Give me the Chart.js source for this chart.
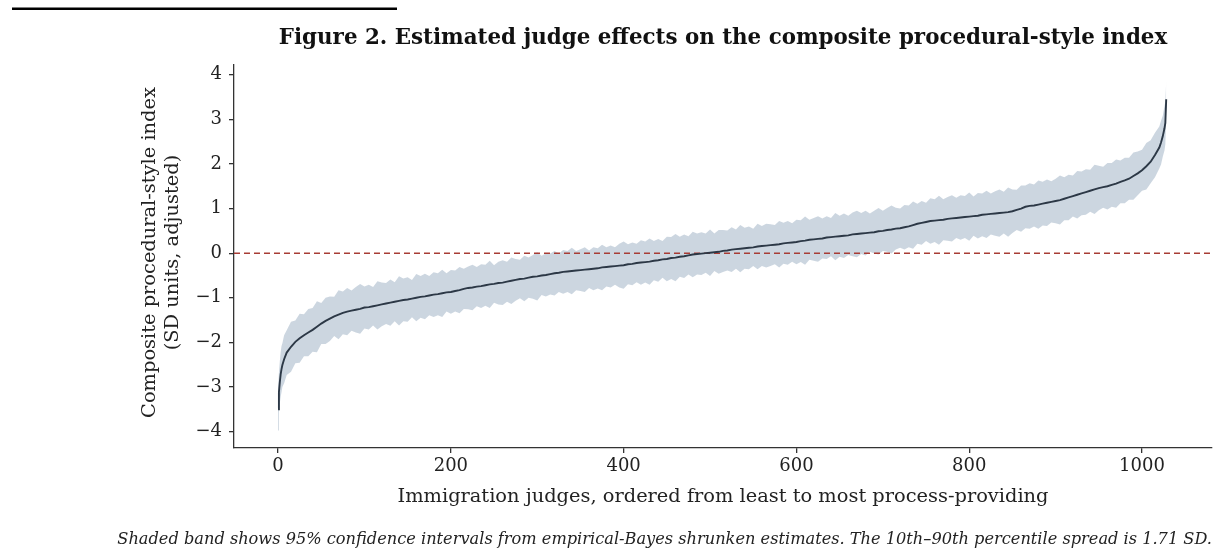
<!DOCTYPE html>
<html>
<head>
<meta charset="utf-8">
<script src="https://cdn.jsdelivr.net/npm/chart.js@4.4.1/dist/chart.umd.min.js"></script>
<style>
  html, body { margin: 0; padding: 0; background: #ffffff; }
  #wrap { position: relative; width: 1222px; height: 557px; }
  canvas { display: block; }
</style>
</head>
<body>
<div id="wrap"><canvas id="c" width="1222" height="557"></canvas></div>
<script>
// Judges ranked from least to most process-providing (rank positions sampled along the ordering)
const judgeRank = [
  0, 1, 2, 3, 4, 5, 7, 10, 15, 20,
  25, 30, 35, 40, 45, 50, 55, 60, 65, 70,
  75, 80, 85, 90, 95, 100, 105, 110, 115, 120,
  125, 130, 135, 140, 145, 150, 155, 160, 165, 170,
  175, 180, 185, 190, 195, 200, 205, 210, 215, 220,
  225, 230, 235, 240, 245, 250, 255, 260, 265, 270,
  275, 280, 285, 290, 295, 300, 305, 310, 315, 320,
  325, 330, 335, 340, 345, 350, 355, 360, 365, 370,
  375, 380, 385, 390, 395, 400, 405, 410, 415, 420,
  425, 430, 435, 440, 445, 450, 455, 460, 465, 470,
  475, 480, 485, 490, 495, 500, 505, 510, 515, 520,
  525, 530, 535, 540, 545, 550, 555, 560, 565, 570,
  575, 580, 585, 590, 595, 600, 605, 610, 615, 620,
  625, 630, 635, 640, 645, 650, 655, 660, 665, 670,
  675, 680, 685, 690, 695, 700, 705, 710, 715, 720,
  725, 730, 735, 740, 745, 750, 755, 760, 765, 770,
  775, 780, 785, 790, 795, 800, 805, 810, 815, 820,
  825, 830, 835, 840, 845, 850, 855, 860, 865, 870,
  875, 880, 885, 890, 895, 900, 905, 910, 915, 920,
  925, 930, 935, 940, 945, 950, 955, 960, 965, 970,
  975, 980, 985, 990, 995, 1000, 1005, 1010, 1015, 1020,
  1022, 1024, 1026, 1027, 1028
];

// Empirical-Bayes shrunken judge effect (SD units)
const judgeEffect = [
  -3.50, -3.12, -2.90, -2.72, -2.60, -2.51, -2.38, -2.23, -2.10, -1.99,
  -1.91, -1.84, -1.78, -1.72, -1.65, -1.58, -1.52, -1.47, -1.42, -1.38,
  -1.34, -1.31, -1.29, -1.27, -1.25, -1.22, -1.21, -1.19, -1.17, -1.15,
  -1.13, -1.11, -1.09, -1.07, -1.05, -1.04, -1.02, -1.00, -0.98, -0.97,
  -0.95, -0.93, -0.92, -0.90, -0.88, -0.87, -0.85, -0.83, -0.80, -0.78,
  -0.77, -0.75, -0.74, -0.72, -0.70, -0.69, -0.67, -0.66, -0.64, -0.62,
  -0.60, -0.58, -0.57, -0.55, -0.53, -0.52, -0.50, -0.49, -0.47, -0.45,
  -0.44, -0.42, -0.41, -0.40, -0.39, -0.38, -0.37, -0.36, -0.35, -0.34,
  -0.32, -0.31, -0.30, -0.29, -0.28, -0.27, -0.25, -0.24, -0.22, -0.21,
  -0.20, -0.19, -0.17, -0.16, -0.14, -0.13, -0.11, -0.10, -0.08, -0.07,
  -0.05, -0.03, -0.02, -0.01, 0.00, 0.01, 0.02, 0.03, 0.05, 0.06,
  0.08, 0.09, 0.10, 0.11, 0.12, 0.13, 0.15, 0.16, 0.17, 0.18,
  0.19, 0.20, 0.22, 0.23, 0.24, 0.25, 0.27, 0.28, 0.30, 0.31,
  0.32, 0.33, 0.35, 0.36, 0.37, 0.38, 0.39, 0.40, 0.42, 0.43,
  0.44, 0.45, 0.46, 0.47, 0.49, 0.50, 0.52, 0.53, 0.55, 0.56,
  0.58, 0.60, 0.63, 0.66, 0.68, 0.70, 0.72, 0.73, 0.74, 0.75,
  0.77, 0.78, 0.79, 0.80, 0.81, 0.82, 0.83, 0.84, 0.86, 0.87,
  0.88, 0.89, 0.90, 0.91, 0.92, 0.94, 0.97, 1.00, 1.04, 1.06,
  1.07, 1.09, 1.11, 1.13, 1.15, 1.17, 1.19, 1.22, 1.25, 1.28,
  1.31, 1.34, 1.37, 1.40, 1.43, 1.46, 1.48, 1.50, 1.53, 1.56,
  1.60, 1.63, 1.67, 1.73, 1.79, 1.86, 1.95, 2.05, 2.20, 2.37,
  2.48, 2.62, 2.80, 2.92, 3.45
];

// Half-width of each judge's 95% confidence interval
const ciHalfWidth = [
  0.48, 0.45, 0.47, 0.50, 0.52, 0.49, 0.54, 0.50, 0.56, 0.48,
  0.55, 0.47, 0.53, 0.49, 0.57, 0.46, 0.52, 0.50, 0.44, 0.55,
  0.48, 0.53, 0.45, 0.51, 0.56, 0.47, 0.50, 0.43, 0.54, 0.49,
  0.46, 0.52, 0.44, 0.55, 0.48, 0.50, 0.42, 0.53, 0.47, 0.51,
  0.44, 0.50, 0.47, 0.53, 0.43, 0.49, 0.46, 0.52, 0.45, 0.48,
  0.51, 0.44, 0.49, 0.46, 0.53, 0.42, 0.48, 0.50, 0.45, 0.52,
  0.47, 0.43, 0.51, 0.45, 0.49, 0.54, 0.44, 0.48, 0.46, 0.50,
  0.43, 0.49, 0.46, 0.52, 0.44, 0.47, 0.50, 0.42, 0.48, 0.45,
  0.51, 0.44, 0.47, 0.42, 0.49, 0.53, 0.45, 0.48, 0.43, 0.50,
  0.46, 0.52, 0.44, 0.48, 0.41, 0.50, 0.47, 0.53, 0.45, 0.49,
  0.43, 0.51, 0.46, 0.48, 0.44, 0.52, 0.42, 0.49, 0.47, 0.45,
  0.50, 0.44, 0.53, 0.46, 0.48, 0.42, 0.51, 0.45, 0.49, 0.47,
  0.44, 0.52, 0.46, 0.49, 0.43, 0.50, 0.47, 0.54, 0.45, 0.48,
  0.51, 0.45, 0.48, 0.43, 0.53, 0.46, 0.50, 0.44, 0.49, 0.52,
  0.46, 0.50, 0.43, 0.48, 0.52, 0.45, 0.49, 0.54, 0.47, 0.44,
  0.50, 0.47, 0.53, 0.45, 0.49, 0.43, 0.51, 0.48, 0.55, 0.46,
  0.49, 0.52, 0.45, 0.50, 0.47, 0.54, 0.44, 0.51, 0.48, 0.53,
  0.46, 0.50, 0.53, 0.47, 0.55, 0.49, 0.45, 0.52, 0.48, 0.51,
  0.47, 0.54, 0.49, 0.52, 0.46, 0.50, 0.55, 0.48, 0.51, 0.46,
  0.53, 0.49, 0.51, 0.47, 0.55, 0.50, 0.46, 0.52, 0.49, 0.54,
  0.48, 0.51, 0.47, 0.53, 0.49, 0.46, 0.52, 0.48, 0.50, 0.47,
  0.49, 0.46, 0.50, 0.48, 0.40
];

const xTickValues = [0, 200, 400, 600, 800, 1000];
const yTickValues = [-4, -3, -2, -1, 0, 1, 2, 3, 4];
const referenceLevel = 0;

const titleText = 'Figure 2. Estimated judge effects on the composite procedural-style index';
const yTitleLines = ['Composite procedural-style index', '(SD units, adjusted)'];
const xTitleText = 'Immigration judges, ordered from least to most process-providing';
const noteText = 'Shaded band shows 95% confidence intervals from empirical-Bayes shrunken estimates. The 10th\u201390th percentile spread is 1.71 SD.';

const SERIF = '"DejaVu Serif", "Liberation Serif", serif';

const effectPoints = judgeRank.map((r, i) => ({ x: r, y: judgeEffect[i] }));
const upperPoints = judgeRank.map((r, i) => ({ x: r, y: judgeEffect[i] + ciHalfWidth[i] }));
const lowerPoints = judgeRank.map((r, i) => ({ x: r, y: judgeEffect[i] - ciHalfWidth[i] }));

const minusSign = v => String(v).replace('-', '\u2212');

// Dashed zero line, drawn once the band has been painted
const referenceLine = {
  id: 'referenceLine',
  afterDatasetDraw(chart, args) {
    if (args.index !== 2) return;
    const { ctx, chartArea, scales } = chart;
    const y = scales.y.getPixelForValue(referenceLevel);
    ctx.save();
    ctx.strokeStyle = '#a83c35';
    ctx.lineWidth = 1.5;
    ctx.setLineDash([6, 4]);
    ctx.beginPath();
    ctx.moveTo(chartArea.left, y);
    ctx.lineTo(chartArea.right, y);
    ctx.stroke();
    ctx.restore();
  }
};

// Title, axis titles, note and the rule at the top of the page
const textLayer = {
  id: 'textLayer',
  afterDraw(chart) {
    const { ctx, chartArea } = chart;
    const cx = (chartArea.left + chartArea.right) / 2;
    const cy = (chartArea.top + chartArea.bottom) / 2;
    ctx.save();
    ctx.fillStyle = '#000';
    ctx.fillRect(12, 7.5, 385, 2.5);

    ctx.fillStyle = '#111';
    ctx.textAlign = 'center';
    ctx.textBaseline = 'middle';
    ctx.font = 'bold 21.4px ' + SERIF;
    ctx.fillText(titleText, cx, 38);

    ctx.font = '19.4px ' + SERIF;
    ctx.fillStyle = '#222';
    ctx.fillText(xTitleText, cx, 497);

    ctx.save();
    ctx.translate(150, cy - 4);
    ctx.rotate(-Math.PI / 2);
    ctx.fillText(yTitleLines[0], 0, 0);
    ctx.fillText(yTitleLines[1], 0, 23);
    ctx.restore();

    ctx.font = 'italic 16.2px ' + SERIF;
    ctx.textAlign = 'right';
    ctx.fillText(noteText, 1212, 540);
    ctx.restore();
  }
};

new Chart(document.getElementById('c'), {
  type: 'line',
  data: {
    datasets: [
      {
        data: effectPoints,
        borderColor: '#2c3846',
        borderWidth: 1.9,
        pointRadius: 0,
        tension: 0,
        fill: false
      },
      {
        data: upperPoints,
        borderWidth: 0,
        borderColor: 'rgba(0,0,0,0)',
        pointRadius: 0,
        tension: 0,
        fill: false
      },
      {
        data: lowerPoints,
        borderWidth: 0,
        borderColor: 'rgba(0,0,0,0)',
        backgroundColor: 'rgba(184,198,212,0.72)',
        pointRadius: 0,
        tension: 0,
        fill: '-1'
      }
    ]
  },
  options: {
    responsive: false,
    animation: false,
    devicePixelRatio: 1,
    layout: { padding: { left: 0, right: 10, top: 65, bottom: 0 } },
    plugins: {
      legend: { display: false },
      tooltip: { enabled: false },
      title: { display: false }
    },
    scales: {
      x: {
        type: 'linear',
        min: -51,
        max: 1081,
        afterBuildTicks: s => { s.ticks = xTickValues.map(v => ({ value: v })); },
        afterFit: s => { s.height = 109; },
        grid: { display: true, drawOnChartArea: false, drawTicks: true, tickLength: 5, color: '#333', lineWidth: 1.3 },
        border: { display: true, color: '#333', width: 1.3 },
        ticks: { font: { family: SERIF, size: 18 }, color: '#222', padding: 3, maxRotation: 0, callback: v => minusSign(v) }
      },
      y: {
        type: 'linear',
        min: -4.37,
        max: 4.22,
        afterBuildTicks: s => { s.ticks = yTickValues.map(v => ({ value: v })); },
        afterFit: s => { s.width = 234; },
        grid: { display: true, drawOnChartArea: false, drawTicks: true, tickLength: 5, color: '#333', lineWidth: 1.3 },
        border: { display: true, color: '#333', width: 1.3 },
        ticks: { font: { family: SERIF, size: 18 }, color: '#222', padding: 7, callback: v => minusSign(v) }
      }
    }
  },
  plugins: [referenceLine, textLayer]
});
</script>
</body>
</html>
